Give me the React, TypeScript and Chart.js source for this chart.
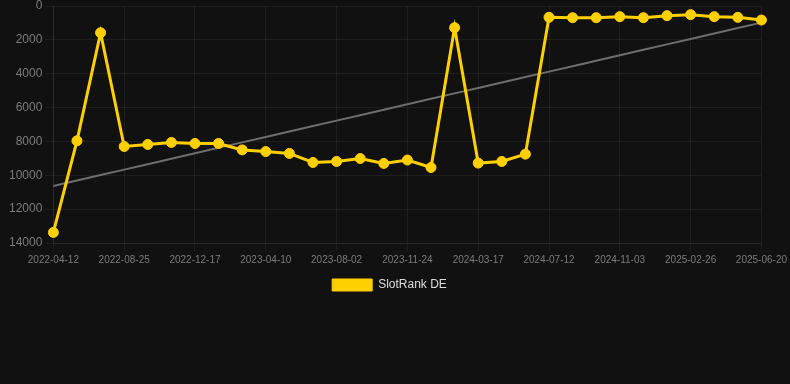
import { useEffect, useRef } from 'react';
import { Chart, registerables } from 'chart.js';

Chart.register(...registerables);

const dateLabels: string[] = [
  '2022-04-12', '2022-05-27', '2022-07-11', '2022-08-25', '2022-10-02', '2022-11-09',
  '2022-12-17', '2023-01-24', '2023-03-03', '2023-04-10', '2023-05-18', '2023-06-25',
  '2023-08-02', '2023-09-09', '2023-10-17', '2023-11-24', '2024-01-01', '2024-02-08',
  '2024-03-17', '2024-04-25', '2024-06-03', '2024-07-12', '2024-08-19', '2024-09-26',
  '2024-11-03', '2024-12-11', '2025-01-19', '2025-02-26', '2025-04-05', '2025-05-13',
  '2025-06-20',
];

const slotRankDE: number[] = [
  13375, 7965, 1580, 8300, 8180, 8060,
  8120, 8120, 8500, 8600, 8710, 9245,
  9185, 9010, 9300, 9100, 9540, 1280,
  9280, 9185, 8750, 670, 690, 690,
  630, 690, 570, 510, 630, 670,
  830,
];

const yMin = 0;
const yMax = 14000;
const yStep = 2000;

function linearTrend(values: number[]): number[] {
  const n = values.length;
  let sx = 0, sy = 0, sxx = 0, sxy = 0;
  values.forEach((v, i) => {
    sx += i; sy += v; sxx += i * i; sxy += i * v;
  });
  const slope = (n * sxy - sx * sy) / (n * sxx - sx * sx);
  const intercept = (sy - slope * sx) / n;
  return values.map((_, i) => intercept + slope * i);
}

export default function App() {
  const ref = useRef<HTMLCanvasElement>(null);

  useEffect(() => {
    document.body.style.margin = '0';
    document.body.style.background = '#111111';
    const yellow = '#FFD000';
    const gridColor = 'rgba(255,255,255,0.055)';
    const font = 'Arial, "Liberation Sans", Helvetica, sans-serif';
    const chart = new Chart(ref.current as HTMLCanvasElement, {
      type: 'line',
      data: {
        labels: dateLabels,
        datasets: [
          {
            label: 'SlotRank DE',
            data: slotRankDE,
            borderColor: yellow,
            backgroundColor: yellow,
            pointBackgroundColor: yellow,
            pointBorderColor: yellow,
            borderWidth: 3,
            pointRadius: 5,
            pointBorderWidth: 1,
            tension: 0,
            order: 1,
          },
          {
            label: 'Trend',
            data: linearTrend(slotRankDE),
            borderColor: '#6e6e6e',
            backgroundColor: '#6e6e6e',
            borderWidth: 2,
            pointRadius: 0,
            tension: 0,
            order: 2,
          },
        ],
      },
      options: {
        animation: false,
        responsive: true,
        maintainAspectRatio: false,
        layout: { padding: { left: 6, right: 17, top: 0, bottom: 0 } },
        scales: {
          x: {
            grid: { color: gridColor },
            border: { color: gridColor },
            ticks: {
              color: '#7c7c7c',
              font: { family: font, size: 10 },
              maxRotation: 0,
              minRotation: 0,
              autoSkip: true,
            },
          },
          y: {
            reverse: true,
            min: yMin,
            max: yMax,
            grid: { color: gridColor },
            border: { color: gridColor },
            ticks: {
              stepSize: yStep,
              color: '#7c7c7c',
              font: { family: font, size: 12, lineHeight: 0.5 },
              callback: (v) => String(v),
            },
          },
        },
        plugins: {
          legend: {
            position: 'bottom',
            labels: {
              color: '#dddddd',
              font: { family: font, size: 12 },
              boxWidth: 40,
              boxHeight: 12,
              generateLabels: (c) => {
                const items = Chart.defaults.plugins.legend.labels.generateLabels(c);
                return items
                  .filter((it) => it.text !== 'Trend')
                  .map((it) => ({ ...it, lineWidth: 1 }));
              },
            },
          },
          tooltip: { enabled: false },
        },
      },
    });
    return () => chart.destroy();
  }, []);

  return (
    <div style={{ width: 790, height: 384, background: '#111111' }}>
      <div style={{ position: 'relative', width: 790, height: 301 }}>
        <canvas ref={ref} />
      </div>
    </div>
  );
}
